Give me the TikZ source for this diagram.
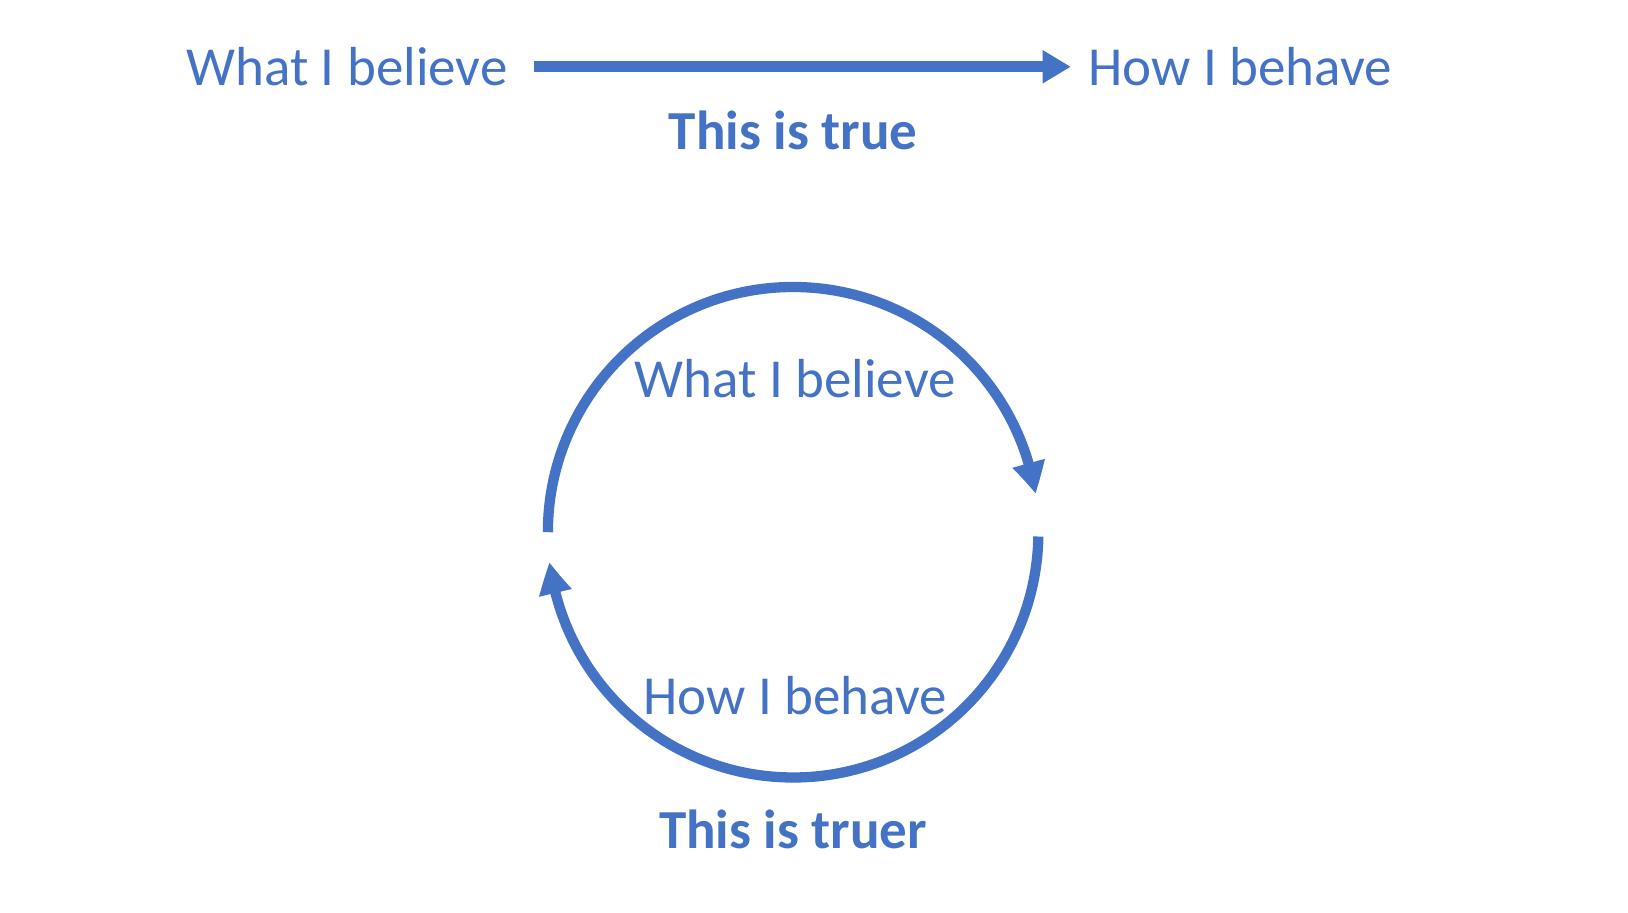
\documentclass[tikz,border=0pt]{standalone}
\usepackage{fontspec}
\setmainfont{Carlito}
\usepackage{tikz}
\usetikzlibrary{arrows.meta, bending, positioning, calc}
\definecolor{officeblue}{HTML}{4472C4}

\begin{document}
\begin{tikzpicture}[
  >={Triangle[length=2.7mm, width=3mm]},
  font=\fontsize{15}{18}\selectfont,
  phrase/.style={text=officeblue, inner sep=0pt},
  verdict/.style={phrase, font=\fontsize{15}{18}\selectfont\bfseries},
  flow/.style={draw=officeblue, fill=officeblue, line width=3pt, ->},
  cycle/.style={draw=officeblue, line width=2.8pt, -{Triangle[length=3mm, width=3mm, bend]}},
]
\useasboundingbox (0,0) rectangle (15.60,8.74);

% --- Top / straight line view ---
\node[phrase] (believe) at (3.325,8.10) {What I believe};
\node[phrase, right=5.55cm of believe] (behave) {How I behave};
\node[verdict] (true) at (7.60,7.49) {This is true};

\draw[flow, shorten <=2.5mm, shorten >=1.6mm] (believe.east) -- (behave.west);

% --- Bottom / loop view ---
\coordinate (loop) at (7.60,3.64);
\node[phrase] (inbelieve) at (7.62,5.11) {What I believe};
\node[phrase] (inbehave) at (7.62,2.07) {How I behave};
\node[verdict] (truer) at (7.60,0.79) {This is truer};

% --- Arcs (clockwise) ---
\draw[cycle] ($(loop)+(180:2.35cm)$) arc[start angle=180, end angle=9, radius=2.35cm];
\draw[cycle] ($(loop)+(-1:2.35cm)$) arc[start angle=-1, end angle=-173, radius=2.35cm];

\end{tikzpicture}
\end{document}
